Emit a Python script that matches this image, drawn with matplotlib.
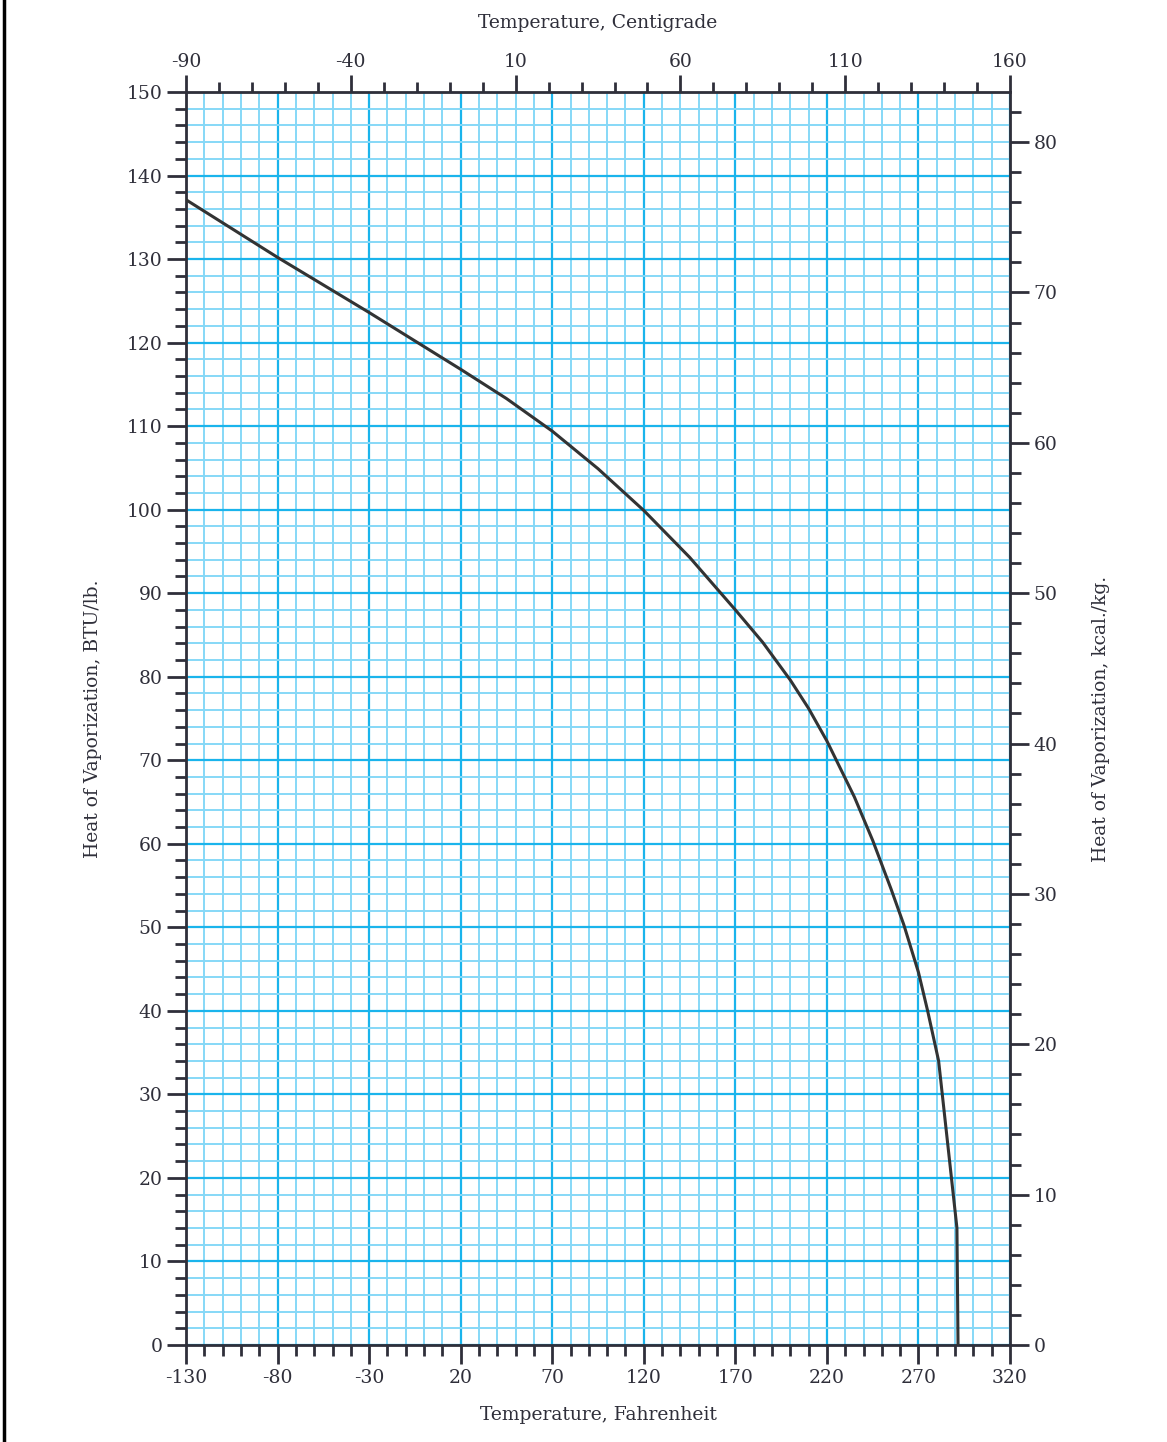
import matplotlib
matplotlib.use("Agg")
import matplotlib.pyplot as plt
from matplotlib.lines import Line2D
from matplotlib.ticker import FixedLocator, MultipleLocator

# curve: temperature in F, heat of vaporization in BTU/lb
temp_f = [-130, -80, -30, 20, 45, 70, 95, 120, 145, 170, 185, 200, 210, 220,
          235, 245, 255, 262, 270, 275, 281, 291, 291.6]
heat_btu = [137.1, 130.2, 123.6, 116.8, 113.3, 109.4, 104.9, 99.9, 94.3, 88.0,
            84.1, 79.6, 76.2, 72.3, 65.6, 60.4, 54.6, 50.3, 44.6, 40.0, 34.0,
            14.0, 0.0]

# tick values
f_ticks = [-130, -80, -30, 20, 70, 120, 170, 220, 270, 320]
c_ticks = [-90, -40, 10, 60, 110, 160]
btu_ticks = list(range(0, 151, 10))
kcal_ticks = list(range(0, 81, 10))

grid_minor = '#86d8f7'
grid_major = '#1ab4ec'
ink = '#2f2f3a'
fs = 13.5

plt.rcParams['font.family'] = ['DejaVu Serif']
plt.rcParams['axes.unicode_minus'] = False

fig = plt.figure(figsize=(11.67, 14.42), dpi=100)
ax = fig.add_axes([0.1594, 0.0673, 0.8655 - 0.1594, 0.9362 - 0.0673])

# graph paper grid
ax.set_xlim(-130, 320)
ax.set_ylim(0, 150)
ax.xaxis.set_major_locator(FixedLocator(f_ticks))
ax.xaxis.set_minor_locator(MultipleLocator(10))
ax.yaxis.set_major_locator(FixedLocator(btu_ticks))
ax.yaxis.set_minor_locator(MultipleLocator(2))
ax.grid(True, which='minor', color=grid_minor, linewidth=1.4)
ax.grid(True, which='major', color=grid_major, linewidth=1.6)
ax.set_axisbelow(True)

ax.plot(temp_f, heat_btu, '-', color='#333333', linewidth=2.2, zorder=3)

for s in ax.spines.values():
    s.set_color(ink)
    s.set_linewidth(2)
ax.tick_params(which='major', length=14, width=2, color=ink, labelsize=fs,
               labelcolor=ink, pad=3)
ax.tick_params(which='minor', length=8, width=2, color=ink)

ax.set_xlabel('Temperature, Fahrenheit', fontsize=fs, color=ink, labelpad=14)
ax.set_ylabel('Heat of Vaporization, BTU/lb.', fontsize=fs, color=ink, labelpad=18)

# Centigrade on top
top = ax.secondary_xaxis('top', functions=(lambda f: (f - 32) * 5 / 9,
                                          lambda c: c * 9 / 5 + 32))
top.xaxis.set_major_locator(FixedLocator(c_ticks))
top.xaxis.set_minor_locator(MultipleLocator(10))
top.tick_params(which='major', length=12, width=2, color=ink, labelsize=fs,
                labelcolor=ink, pad=3)
top.tick_params(which='minor', length=7, width=2, color=ink)
top.set_xlabel('Temperature, Centigrade', fontsize=fs, color=ink, labelpad=18)

# kcal/kg on the right
right = ax.secondary_yaxis('right', functions=(lambda b: b / 1.8, lambda k: k * 1.8))
right.yaxis.set_major_locator(FixedLocator(kcal_ticks))
right.yaxis.set_minor_locator(MultipleLocator(2))
right.tick_params(which='major', length=14, width=2, color=ink, labelsize=fs,
                  labelcolor=ink, pad=3)
right.tick_params(which='minor', length=8, width=2, color=ink)
right.set_ylabel('Heat of Vaporization, kcal./kg.', fontsize=fs, color=ink, labelpad=25)

# page edge on the left
fig.add_artist(Line2D([0.0035, 0.0035], [0, 1], color='black', linewidth=2.5,
                      transform=fig.transFigure))

fig.savefig('out.png', dpi=100)
